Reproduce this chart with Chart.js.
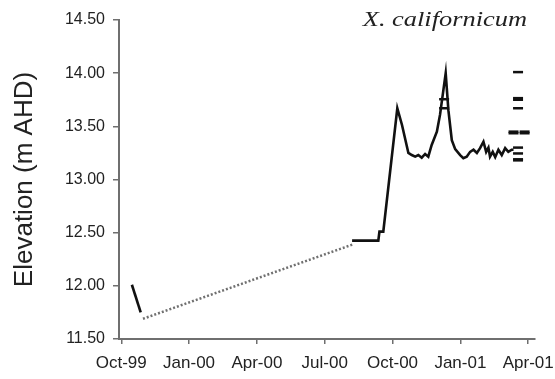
<!DOCTYPE html>
<html>
<head>
<meta charset="utf-8">
<script src="https://cdn.jsdelivr.net/npm/chart.js@4/dist/chart.umd.min.js"></script>
<style>
  html, body { margin: 0; padding: 0; background: #fff; }
  canvas { display: block; }
</style>
</head>
<body>
<canvas id="elevChart" width="555" height="379"></canvas>
<script>
'use strict';

// x values are months since 1 Oct 1999, y values are elevation (m AHD)
const quarterLabels = ['Oct-99', 'Jan-00', 'Apr-00', 'Jul-00', 'Oct-00', 'Jan-01', 'Apr-01'];
const quarterMonths = [0, 3, 6, 9, 12, 15, 18];
const yTicks        = [11.5, 12.0, 12.5, 13.0, 13.5, 14.0, 14.5];

// first short logger record
const earlyMonths = [0.47, 0.86];
const earlyElev   = [12.01, 11.75];

// gap in the record (dotted join)
const gapMonths = [0.96, 10.25];
const gapElev   = [11.69, 12.39];

// main logger record
const mainMonths = [10.21, 11.37, 11.42, 11.59, 12.21, 12.42, 12.70, 12.85, 13.00, 13.14,
                    13.29, 13.44, 13.58, 13.73, 13.96, 14.10, 14.35, 14.47, 14.62, 14.77,
                    14.99, 15.13, 15.28, 15.43, 15.58, 15.73, 15.87, 16.02, 16.14, 16.24,
                    16.31, 16.43, 16.54, 16.68, 16.83, 16.98, 17.12, 17.27, 17.35];
const mainElev   = [12.425, 12.425, 12.51, 12.51, 13.67, 13.51, 13.25, 13.23, 13.215, 13.23,
                    13.205, 13.24, 13.215, 13.325, 13.45, 13.61, 14.00, 13.65, 13.37, 13.285,
                    13.23, 13.20, 13.215, 13.26, 13.28, 13.25, 13.295, 13.355, 13.26, 13.30,
                    13.215, 13.26, 13.21, 13.28, 13.23, 13.295, 13.26, 13.28, 13.28];

// spot readings drawn as short dashes
const spotMonths = [14.28, 14.28, 17.55, 17.55, 17.55, 17.55, 17.35, 17.84, 17.35, 17.84, 17.55, 17.55, 17.55, 17.55];
const spotElev   = [13.755, 13.67, 14.01, 13.75, 13.765, 13.67, 13.435, 13.435, 13.45, 13.45, 13.30, 13.245, 13.19, 13.18];

const zip = (xs, ys) => xs.map((x, i) => ({ x: x, y: ys[i] }));

const inkColor  = '#111111';
const axisColor = '#6f6f6f';
const textColor = '#222222';

// species name in the top right corner (slightly stretched like the original)
const speciesLabel = {
    id: 'speciesLabel',
    afterDraw(chart) {
        const ctx = chart.ctx;
        ctx.save();
        ctx.font = 'italic 22px "Liberation Serif", "Times New Roman", serif';
        ctx.fillStyle = textColor;
        ctx.textAlign = 'right';
        ctx.textBaseline = 'alphabetic';
        ctx.translate(527, 26);
        ctx.scale(1.2, 1);
        ctx.fillText('X. californicum', 0, 0);
        ctx.restore();
    }
};

new Chart(document.getElementById('elevChart'), {
    type: 'scatter',
    data: {
        datasets: [
            {
                data: zip(earlyMonths, earlyElev),
                showLine: true,
                borderColor: inkColor,
                borderWidth: 2.6,
                pointRadius: 0
            },
            {
                data: zip(gapMonths, gapElev),
                showLine: true,
                borderColor: '#707070',
                borderWidth: 2.5,
                borderDash: [2, 2],
                pointRadius: 0
            },
            {
                data: zip(mainMonths, mainElev),
                showLine: true,
                borderColor: inkColor,
                borderWidth: 2.6,
                borderJoinStyle: 'miter',
                pointRadius: 0
            },
            {
                data: zip(spotMonths, spotElev),
                showLine: false,
                pointStyle: 'line',
                pointRadius: 5,
                pointBorderWidth: 2.5,
                pointBorderColor: inkColor,
                borderColor: inkColor
            }
        ]
    },
    options: {
        responsive: false,
        animation: false,
        layout: { padding: { top: 20, right: 20, left: 0, bottom: 0 } },
        plugins: {
            legend: { display: false },
            tooltip: { enabled: false }
        },
        scales: {
            x: {
                type: 'linear',
                min: -0.1,
                max: 18.3,
                afterFit: (scale) => {
                    scale.height = 40;
                    scale.paddingLeft = 0;
                    scale.paddingRight = 0;
                },
                afterBuildTicks: (scale) => {
                    scale.ticks = quarterMonths.map((v) => ({ value: v }));
                },
                border: { color: axisColor, width: 2 },
                grid: { drawOnChartArea: false, drawTicks: true, tickLength: 5, color: axisColor, lineWidth: 1.5 },
                ticks: {
                    color: textColor,
                    font: { family: '"Liberation Sans", Arial, sans-serif', size: 17 },
                    padding: 9,
                    maxRotation: 0,
                    autoSkip: false,
                    callback: (value) => {
                        const i = quarterMonths.indexOf(value);
                        return i >= 0 ? quarterLabels[i] : '';
                    }
                }
            },
            y: {
                min: 11.5,
                max: 14.5,
                afterFit: (scale) => {
                    scale.width = 119;
                    scale.paddingTop = 0;
                    scale.paddingBottom = 0;
                },
                afterBuildTicks: (scale) => {
                    scale.ticks = yTicks.map((v) => ({ value: v }));
                },
                border: { color: axisColor, width: 2 },
                grid: { drawOnChartArea: false, drawTicks: true, tickLength: 6, color: axisColor, lineWidth: 1.5 },
                ticks: {
                    color: textColor,
                    font: { family: '"Liberation Sans", Arial, sans-serif', size: 16 },
                    padding: 8,
                    callback: (value) => Number(value).toFixed(2)
                },
                title: {
                    display: true,
                    text: 'Elevation (m AHD)',
                    color: textColor,
                    font: { family: '"Liberation Sans", Arial, sans-serif', size: 26 },
                    padding: { top: 9, bottom: 0 }
                }
            }
        }
    },
    plugins: [speciesLabel]
});
</script>
</body>
</html>
